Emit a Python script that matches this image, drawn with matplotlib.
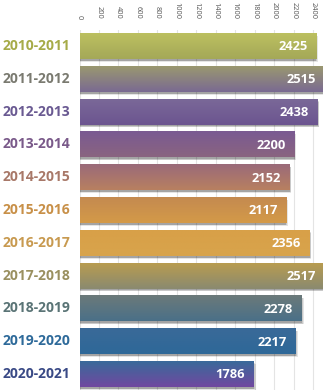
import matplotlib
matplotlib.use("Agg")
import matplotlib.pyplot as plt
import numpy as np
from matplotlib.colors import to_rgb

seasons = ["2010-2011", "2011-2012", "2012-2013", "2013-2014", "2014-2015",
           "2015-2016", "2016-2017", "2017-2018", "2018-2019", "2019-2020",
           "2020-2021"]
values = [2425, 2515, 2438, 2200, 2152, 2117, 2356, 2517, 2278, 2217, 1786]
ticks = [0, 200, 400, 600, 800, 1000, 1200, 1400, 1600, 1800, 2000, 2200, 2400]

top_colors = ["#bcc060", "#9a9870", "#7a6898", "#7a5a92", "#9a6a7a", "#c48a50",
              "#d8a048", "#b89c50", "#6c7a7a", "#3a6a98", "#3a6a9a"]
bot_colors = ["#a4a858", "#7a6a92", "#6c5590", "#8a6480", "#b88060", "#d49a48",
              "#d8a44c", "#8a8a70", "#4a7088", "#2e6898", "#7048a0"]
label_colors = ["#a6ab48", "#7a7a70", "#6a5a92", "#7a5a8a", "#a87868", "#c89048",
                "#c89a50", "#9a9060", "#5a7476", "#2e6a9a", "#3a4a86"]

W, H = 323, 390
fig = plt.figure(figsize=(W / 100, H / 100), dpi=100)
ax_left = 79.5 / W
ax_top = 1 - 29.6 / H
ax = fig.add_axes([ax_left, -0.001, 1 - ax_left, ax_top + 0.001])
ax.set_xlim(0, 2500)
ax.set_ylim(len(seasons) - 0.5, -0.5)

bh = 0.79
y = np.arange(len(seasons))

# gridlines
for t in ticks:
    ax.axvline(t, color="#e4e4e4", lw=0.8, zorder=0)

# shadows
for i, v in enumerate(values):
    for k, a in enumerate([0.10, 0.12, 0.18]):
        off = 3 - k
        ax.barh(i + bh * 0.02 * off + 0.04, v + 8 * off, height=bh, left=0,
                color="#000000", alpha=a, lw=0, zorder=1)

# gradient bars
for i, v in enumerate(values):
    bars = ax.barh(i, v, height=bh, color="none", lw=0, zorder=2)
    c1 = np.array(to_rgb(top_colors[i]))
    c2 = np.array(to_rgb(bot_colors[i]))
    tt = np.linspace(0, 1, 64)[:, None]
    grad = (c1[None, :] * (1 - tt) + c2[None, :] * tt)[:, None, :]
    im = ax.imshow(grad, extent=[0, v, i + bh / 2, i - bh / 2], aspect="auto",
                   zorder=3, interpolation="bilinear")
    im.set_clip_path(bars.patches[0])
    ax.text(v - 85, i + 0.03, f"{v}", color="white", ha="right", va="center",
            fontsize=9.3, fontweight="bold", family="Open Sans", zorder=4)

ax.set_yticks(y)
ax.set_yticklabels([])
for i, s in enumerate(seasons):
    ax.text(-9 * 2500 / (W - 79.5), i, s, ha="right", va="center", fontsize=10,
            fontweight="bold", family="Open Sans", color=label_colors[i],
            clip_on=False)

ax.xaxis.tick_top()
ax.set_xticks(ticks)
ax.set_xticklabels([str(t) for t in ticks], rotation=270, fontsize=5.3,
                   color="#555555", family="Open Sans")
ax.tick_params(axis="x", length=0, pad=7.5)
ax.tick_params(axis="y", length=0)
for sp in ax.spines.values():
    sp.set_visible(False)

fig.savefig("out.png", dpi=100)
